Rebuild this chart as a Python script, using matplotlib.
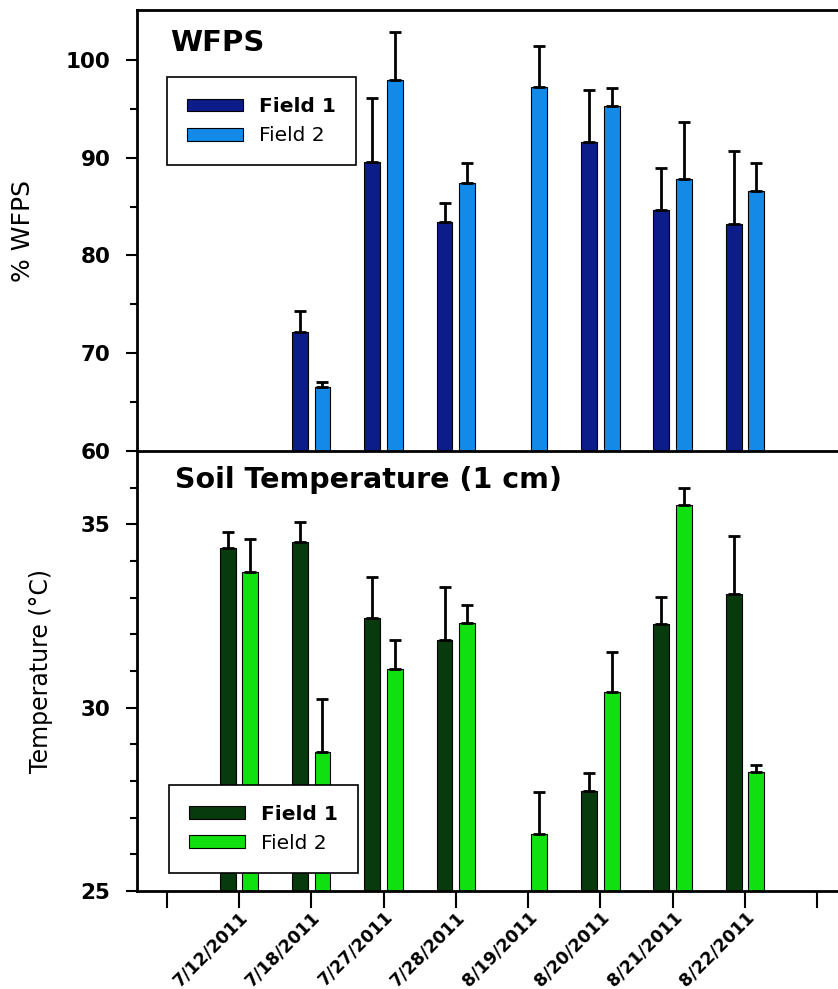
import numpy as np
import matplotlib.pyplot as plt

dates = ['7/12/2011', '7/18/2011', '7/27/2011', '7/28/2011',
         '8/19/2011', '8/20/2011', '8/21/2011', '8/22/2011']

# % WFPS, mean and upper error
wfps_f1 = [np.nan, 72.2, 89.6, 83.4, np.nan, 91.6, 84.6, 83.2]
wfps_f1_err = [np.nan, 2.1, 6.5, 2.0, np.nan, 5.3, 4.3, 7.5]
wfps_f2 = [np.nan, 66.5, 97.9, 87.4, 97.2, 95.3, 87.8, 86.6]
wfps_f2_err = [np.nan, 0.6, 5.0, 2.1, 4.2, 1.8, 5.8, 2.9]

# soil temperature at 1 cm (deg C)
temp_f1 = [34.35, 34.53, 32.45, 31.85, np.nan, 27.73, 32.27, 33.11]
temp_f1_err = [0.45, 0.52, 1.1, 1.43, np.nan, 0.5, 0.74, 1.56]
temp_f2 = [33.7, 28.8, 31.05, 32.3, 26.56, 30.42, 35.54, 28.24]
temp_f2_err = [0.9, 1.45, 0.8, 0.5, 1.15, 1.1, 0.44, 0.2]

plt.rcParams['font.family'] = 'DejaVu Sans'

W, H = 838, 989
fig = plt.figure(figsize=(W / 100, H / 100), dpi=100)

left = 137 / W
width = (870 - 137) / W
ax1 = fig.add_axes([left, (H - 451) / H, width, (451 - 10) / H])
ax2 = fig.add_axes([left, (H - 891) / H, width, (891 - 451) / H])

x = np.arange(len(dates))
bw = 0.22
off = 0.156


def draw_bars(ax, v1, e1, v2, e2, c1, c2, base):
    v1 = np.array(v1, dtype=float)
    v2 = np.array(v2, dtype=float)
    e1 = np.array(e1, dtype=float)
    e2 = np.array(e2, dtype=float)
    b1 = ax.bar(x - off, v1 - base, bw, bottom=base, color=c1, edgecolor='black',
                linewidth=0.8, label='Field 1', zorder=2)
    b2 = ax.bar(x + off, v2 - base, bw, bottom=base, color=c2, edgecolor='black',
                linewidth=0.8, label='Field 2', zorder=2)
    for xs, v, e in [(x - off, v1, e1), (x + off, v2, e2)]:
        ok = ~np.isnan(v)
        ax.errorbar(xs[ok], v[ok], yerr=[np.zeros(ok.sum()), e[ok]], fmt='none',
                    ecolor='black', elinewidth=2, capsize=4.5, capthick=2, zorder=3)
    return b1, b2


draw_bars(ax1, wfps_f1, wfps_f1_err, wfps_f2, wfps_f2_err, '#0c1c88', '#138ae8', 60)
draw_bars(ax2, temp_f1, temp_f1_err, temp_f2, temp_f2_err, '#073a0c', '#10e010', 25)

xlim = (-1.41, 8.73)
for ax in (ax1, ax2):
    ax.set_xlim(*xlim)
    ax.spines['right'].set_visible(False)
    for s in ax.spines.values():
        s.set_linewidth(2)
    ax.tick_params(axis='y', which='major', direction='out', length=8, width=1.5,
                   labelsize=15.5, pad=11)
    ax.tick_params(axis='y', which='minor', direction='out', length=5, width=1.5)

legend_kw = dict(fontsize=14.5, handlelength=2.75, handleheight=0.6, frameon=True,
                 fancybox=False, edgecolor='black', framealpha=1, borderpad=1.0,
                 labelspacing=0.5, handletextpad=0.8, borderaxespad=0)

# WFPS panel
ax1.set_ylim(60, 105.1)
ax1.set_yticks([60, 70, 80, 90, 100])
ax1.set_yticks([65, 75, 85, 95], minor=True)
ax1.set_yticklabels(['60', '70', '80', '90', '100'], fontweight='bold')
ax1.set_xticks([])
ax1.spines['bottom'].set_visible(False)
ax1.set_ylabel('% WFPS', fontsize=18, labelpad=22)
ax1.text(0.045, 0.925, 'WFPS', transform=ax1.transAxes, fontsize=21,
         fontweight='bold', va='center', ha='left')
leg1 = ax1.legend(loc='upper left', bbox_to_anchor=(0.041, 0.848), **legend_kw)
leg1.get_frame().set_linewidth(1.2)
leg1.get_texts()[0].set_fontweight('bold')

# temperature panel
ax2.set_ylim(25, 37)
ax2.set_yticks([25, 30, 35])
ax2.set_yticks([26, 27, 28, 29, 31, 32, 33, 34, 36], minor=True)
ax2.set_yticklabels(['25', '30', '35'], fontweight='bold')
ax2.set_ylabel('Temperature (°C)', fontsize=17, labelpad=20)
ax2.text(0.052, 0.935, 'Soil Temperature (1 cm)', transform=ax2.transAxes,
         fontsize=20.5, fontweight='bold', va='center', ha='left')
leg2 = ax2.legend(loc='lower left', bbox_to_anchor=(0.044, 0.041), **legend_kw)
leg2.set_zorder(5)
leg2.get_frame().set_linewidth(1.2)
leg2.get_texts()[0].set_fontweight('bold')

ticks = np.arange(-1, len(dates) + 1)
ax2.set_xticks(ticks)
ax2.set_xticklabels([''] + dates + [''], rotation=45, ha='right', va='top',
                    rotation_mode='anchor', fontsize=12.5, fontweight='bold')
ax2.tick_params(axis='x', direction='out', length=12, width=1.5, pad=0)

fig.savefig('out.png', dpi=100)
